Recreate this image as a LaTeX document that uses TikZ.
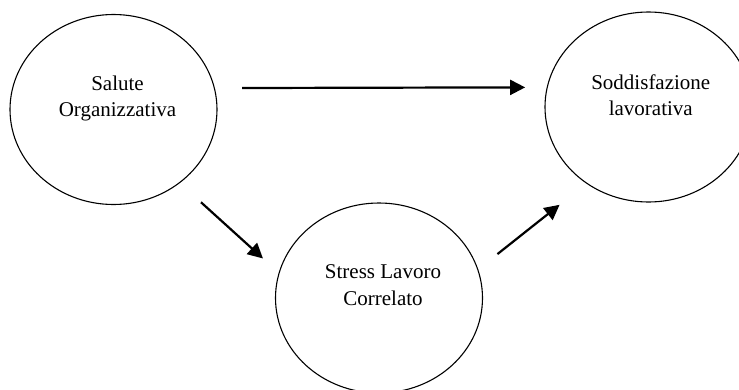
\documentclass[tikz,border=0pt]{standalone}
\usepackage{fontspec}
\setmainfont{Liberation Serif}
\usetikzlibrary{shapes.geometric,arrows.meta}
\begin{document}
\begin{tikzpicture}[x=1pt,y=-1pt,
  bubble/.style={draw, ellipse, line width=1.1pt, minimum width=207pt, minimum height=190pt, inner sep=0pt, outer sep=0pt},
  lbl/.style={align=center, inner sep=0pt, anchor=north, font=\fontsize{21}{26.5}\selectfont},
  link/.style={line width=2.2pt, -{Triangle[length=15pt,width=15pt]}}]
\useasboundingbox (0,0) rectangle (739,389);
\node[bubble] (L) at (113.5,109.5) {};
\node[bubble] (R) at (648.5,107) {};
\node[bubble] (B) at (379,298) {};
\node[lbl] (Lt) at (117.5,75.7) {Salute\\Organizzativa};
\node[lbl] (Rt) at (650.8,74.2) {Soddisfazione\\lavorativa};
\node[lbl] (Bt) at (383,264.7) {Stress Lavoro\\Correlato};
\draw[link, shorten <=27.7pt, shorten >=22.1pt] (L.12.04) -- (R.169.4);
\draw[link, shorten <=29.1pt, shorten >=21.8pt] (L.-48.75) -- (B.166.8);
\draw[link, shorten <=25.1pt, shorten >=34.7pt] (B.16.24) -- (R.231.5);
\end{tikzpicture}
\end{document}
